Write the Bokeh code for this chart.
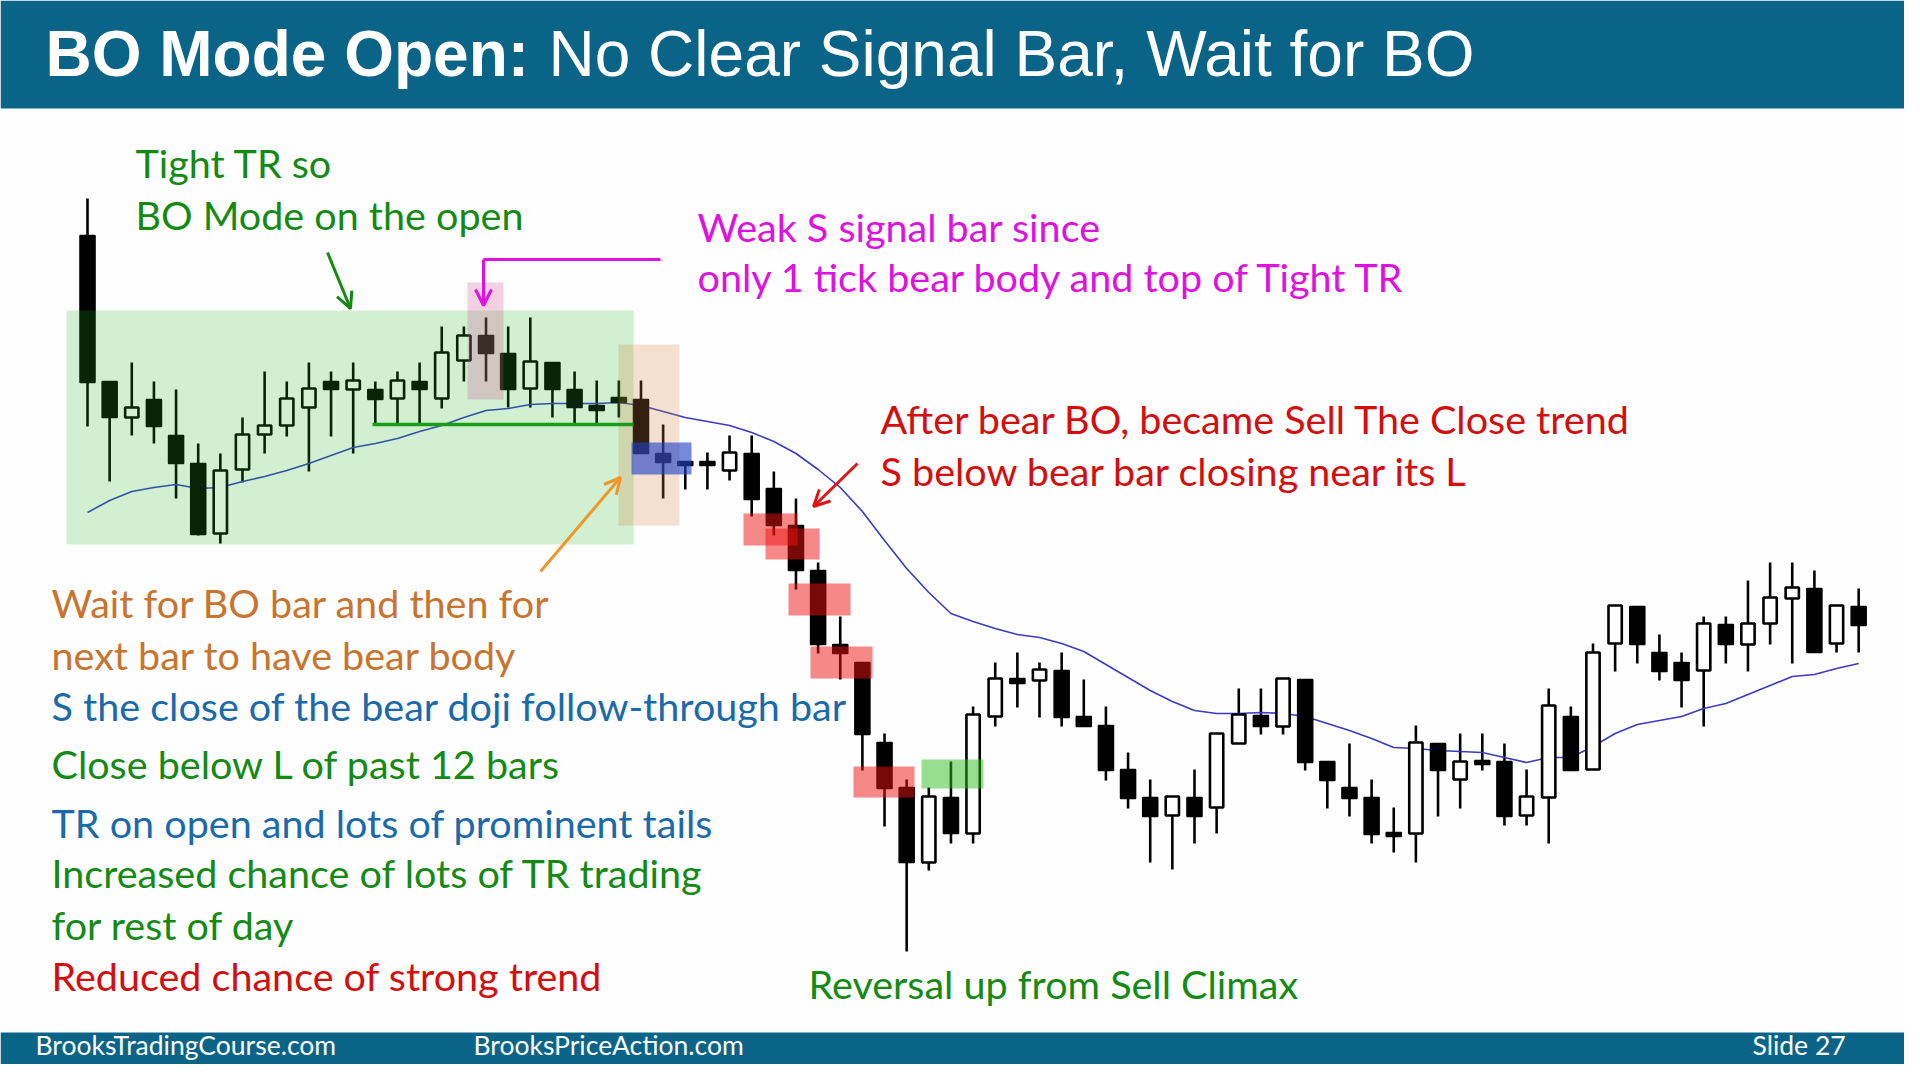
import numpy as np
from bokeh.plotting import figure
from bokeh.models import Range1d, ColumnDataSource, Arrow, OpenHead
from bokeh.core.properties import value
from bokeh.embed import file_html
from bokeh.resources import INLINE

# ---------------- data (price units) ----------------
bar_index = list(range(1, 82))
bar_open = [765, 619, 583, 601, 565, 537, 467, 531, 566, 575,
            593, 619, 611, 611, 602, 619, 602, 640, 665, 647,
            612, 638, 611, 595, 603, 601, 547, 539, 539, 530,
            547, 512, 475, 430, 356, 338, 258, 213, 138, 203,
            167, 284, 322, 320, 330, 284, 275, 231, 203, 185,
            203, 193, 257, 285, 274, 321, 239, 213, 203, 168,
            167, 257, 221, 240, 239, 185, 203, 284, 231, 357,
            394, 348, 338, 330, 376, 356, 377, 402, 412, 357,
            394]
bar_high = [802, 619, 638, 619, 611, 557, 547, 583, 629, 619,
            638, 629, 638, 619, 629, 638, 674, 674, 683, 674,
            683, 638, 629, 620, 620, 620, 576, 539, 548, 565,
            565, 529, 502, 438, 384, 338, 267, 221, 213, 239,
            294, 338, 348, 338, 348, 321, 294, 248, 221, 204,
            231, 267, 312, 312, 322, 321, 239, 257, 221, 193,
            275, 257, 267, 267, 257, 231, 312, 294, 357, 395,
            394, 366, 348, 384, 384, 420, 438, 438, 430, 395,
            412]
bar_low = [574, 519, 565, 557, 502, 465, 457, 518, 547, 564,
           529, 564, 547, 577, 577, 577, 592, 619, 619, 593,
           593, 583, 577, 577, 583, 547, 502, 511, 511, 520,
           484, 465, 411, 347, 321, 230, 174, 49, 130, 157,
           157, 274, 293, 283, 274, 274, 220, 192, 138, 131,
           157, 167, 257, 266, 266, 230, 192, 184, 157, 148,
           138, 184, 192, 230, 175, 175, 157, 230, 231, 329,
           337, 320, 293, 274, 337, 329, 356, 337, 348, 348,
           348]
bar_close = [618, 583, 593, 574, 537, 466, 530, 566, 575, 602,
             612, 611, 620, 601, 620, 611, 648, 665, 647, 611,
             639, 611, 593, 590, 598, 547, 538, 535, 535, 548,
             501, 475, 430, 356, 347, 266, 212, 138, 204, 167,
             286, 322, 317, 331, 283, 274, 230, 202, 184, 204,
             184, 267, 286, 274, 322, 238, 220, 202, 166, 164,
             258, 230, 239, 236, 184, 204, 295, 230, 348, 395,
             356, 329, 320, 377, 356, 377, 403, 413, 348, 395,
             375]
ema20 = [488, 500, 509, 513, 516, 512, 513, 519, 524, 530,
         537, 545, 553, 557, 562, 569, 575, 583, 590, 592,
         596, 597, 597, 597, 598, 595, 589, 583, 579, 575,
         568, 559, 547, 531, 513, 489, 460, 432, 408, 387,
         379, 372, 366, 363, 357, 349, 336, 323, 310, 299,
         290, 287, 287, 288, 287, 284, 277, 270, 262, 253,
         252, 250, 249, 248, 243, 238, 243, 243, 254, 267,
         276, 280, 284, 292, 297, 306, 315, 324, 326, 332,
         337]

title_bold = "BO Mode Open:"
title_rest = "No Clear Signal Bar, Wait for BO"
footer_left = "BrooksTradingCourse.com"
footer_mid = "BrooksPriceAction.com"
footer_right = "Slide  27"

# ---------------- figure: slide-pixel coordinates for layout ----------------
p = figure(width=1904, height=1064, output_backend="svg", toolbar_location=None,
           x_range=Range1d(0, 1904), y_range=Range1d(1064, 0),
           x_axis_type=None, y_axis_type=None, min_border=0)
p.outline_line_color = None
p.background_fill_color = "#fefefe"
p.border_fill_color = "#fefefe"
p.extra_x_ranges = {"bars": Range1d(-2.930, 83.07)}
p.extra_y_ranges = {"price": Range1d(-64, 1000)}

FONT = value("Lato")
TEAL = "#0a6488"

# title / footer bands
p.quad(left=[0], right=[1904], top=[0], bottom=[108], fill_color=TEAL, line_color=None)
p.quad(left=[0], right=[1904], top=[1032], bottom=[1064], fill_color=TEAL, line_color=None)

# ---------------- candles ----------------
idx = np.array(bar_index, dtype=float)
o = np.array(bar_open, dtype=float)
h = np.array(bar_high, dtype=float)
l = np.array(bar_low, dtype=float)
c = np.array(bar_close, dtype=float)
bull = c > o
bear = ~bull

p.segment(x0=idx, y0=l, x1=idx, y1=h, line_color="black", line_width=2.6,
          x_range_name="bars", y_range_name="price")
p.line(idx, ema20, line_color="#3a3ac4", line_width=1.6,
       x_range_name="bars", y_range_name="price")
src_bull = ColumnDataSource(dict(x=idx[bull], top=c[bull], bottom=o[bull]))
src_bear = ColumnDataSource(dict(x=idx[bear], top=o[bear], bottom=c[bear]))
p.vbar(x="x", top="top", bottom="bottom", width=0.6, source=src_bull,
       fill_color="white", line_color="black", line_width=2.6,
       x_range_name="bars", y_range_name="price")
p.vbar(x="x", top="top", bottom="bottom", width=0.68, source=src_bear,
       fill_color="black", line_color="black", line_width=1.5,
       x_range_name="bars", y_range_name="price")

# ---------------- highlight boxes ----------------
p.quad(left=[66], right=[633], top=[310], bottom=[544], fill_color="#1db41d",
       fill_alpha=0.2, line_color=None)
p.quad(left=[467], right=[503], top=[282], bottom=[399], fill_color="#d04a90",
       fill_alpha=0.25, line_color=None)
p.quad(left=[618], right=[679], top=[344], bottom=[525], fill_color="#d08040",
       fill_alpha=0.24, line_color=None)
p.quad(left=[631], right=[691], top=[442], bottom=[474], fill_color="#2040c8",
       fill_alpha=0.62, line_color=None)
p.quad(left=[743, 765, 788, 810, 853], right=[797, 819, 850, 872, 914],
       top=[513, 528, 583, 646, 766], bottom=[545, 559, 615, 678, 797],
       fill_color="#ee1111", fill_alpha=0.5, line_color=None)
p.quad(left=[921], right=[983], top=[759], bottom=[788], fill_color="#30c020",
       fill_alpha=0.5, line_color=None)

# tight TR low line
p.line([372, 633], [424, 424], line_color="#1a9e1a", line_width=3.5)

# ---------------- arrows ----------------
def arrow(x0, y0, x1, y1, color):
    p.add_layout(Arrow(x_start=x0, y_start=y0, x_end=x1, y_end=y1,
                       line_color=color, line_width=3,
                       end=OpenHead(size=16, line_color=color, line_width=3)))

GREEN = "#138a13"
MAGENTA = "#e010e0"
RED = "#d40d0d"
ORANGE = "#c8742f"
BLUE = "#1a6aaa"
arrow(327, 252, 350, 308, GREEN)
p.line([660, 483], [259, 259], line_color=MAGENTA, line_width=3)
arrow(483, 259, 483, 305, MAGENTA)
arrow(540, 571, 620, 477, "#f0962a")
arrow(857, 463, 813, 506, "#e01515")

# ---------------- texts ----------------
def txt(x, base, s, color, size=39.5, font=FONT, style="normal", align="left"):
    # compensate for the renderer's baseline placement (~0.37 em low)
    p.text(x=[x], y=[base - 0.37 * size], text=[s], text_color=color, text_font=font,
           text_font_size=value(f"{size}px"), text_font_style=style,
           text_baseline="alphabetic", text_align=align)

txt(45, 77, title_bold, "white", 64, value("Liberation Sans"), "bold")
txt(548, 77, title_rest, "white", 64, value("Liberation Sans"))

txt(135, 177, "Tight TR so", GREEN)
txt(135, 229, "BO Mode on the open", GREEN)
txt(697, 241, "Weak S signal bar since", MAGENTA)
txt(697, 291, "only 1 tick bear body and top of Tight TR", MAGENTA)
txt(880, 433, "After bear BO, became Sell The Close trend", RED)
txt(880, 485, "S below bear bar closing near its L", RED)
txt(51, 617, "Wait for BO bar and then for", ORANGE)
txt(51, 669, "next bar to have bear body", ORANGE)
txt(51, 720, "S the close of the bear doji follow-through bar", BLUE)
txt(51, 778, "Close below L of past 12 bars", GREEN)
txt(51, 837, "TR on open and lots of prominent tails", BLUE)
txt(51, 887, "Increased chance of lots of TR trading", GREEN)
txt(51, 939, "for rest of day", GREEN)
txt(51, 990, "Reduced chance of strong trend", RED)
txt(808, 998, "Reversal up from Sell Climax", GREEN)

txt(35, 1054, footer_left, "white", 26.5)
txt(473, 1054, footer_mid, "white", 26.5)
txt(1752, 1054, footer_right, "white", 26.5)

open("out.html", "w").write(file_html(p, INLINE))
